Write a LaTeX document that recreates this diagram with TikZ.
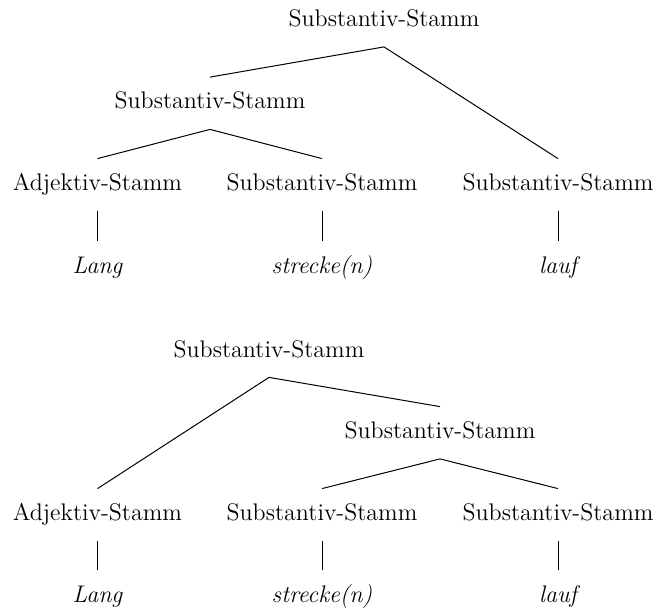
\documentclass[tikz,border=0pt]{standalone}
\begin{document}
\begin{tikzpicture}[x=0.5pt,y=-0.5pt,
  lab/.style={anchor=base,inner sep=0pt,text height=15.75pt,text depth=10pt,font=\fontsize{12}{14}\selectfont},
  word/.style={lab,font=\fontsize{12}{14}\selectfont\itshape},
  edge/.style={line width=0.5pt}]
\useasboundingbox (0,0) rectangle (658,609);
% top tree
\node[lab] (a0) at (384,26.5) {Substantiv-Stamm};
\node[lab] (a1) at (210,109) {Substantiv-Stamm};
\node[lab] (a2) at (97.5,190.5) {Adjektiv-Stamm};
\node[lab] (a3) at (322,190.5) {Substantiv-Stamm};
\node[lab] (a4) at (558,190.5) {Substantiv-Stamm};
\node[word] (w1) at (97.5,273) {Lang};
\node[word] (w2) at (322,273) {strecke(n)};
\node[word] (w3) at (558,273) {lauf};
\draw[edge] (a0.south) -- (a1.north);
\draw[edge] (a0.south) -- (a4.north);
\draw[edge] (a1.south) -- (a2.north);
\draw[edge] (a1.south) -- (a3.north);
\draw[edge] (a2.south) -- (w1.north);
\draw[edge] (a3.south) -- (w2.north);
\draw[edge] (a4.south) -- (w3.north);
% bottom tree
\node[lab] (b0) at (269,357) {Substantiv-Stamm};
\node[lab] (b1) at (440,438.5) {Substantiv-Stamm};
\node[lab] (b2) at (97.5,520.5) {Adjektiv-Stamm};
\node[lab] (b3) at (322,520.5) {Substantiv-Stamm};
\node[lab] (b4) at (558,520.5) {Substantiv-Stamm};
\node[word] (v1) at (97.5,602) {Lang};
\node[word] (v2) at (322,602) {strecke(n)};
\node[word] (v3) at (558,602) {lauf};
\draw[edge] (b0.south) -- (b2.north);
\draw[edge] (b0.south) -- (b1.north);
\draw[edge] (b1.south) -- (b3.north);
\draw[edge] (b1.south) -- (b4.north);
\draw[edge] (b2.south) -- (v1.north);
\draw[edge] (b3.south) -- (v2.north);
\draw[edge] (b4.south) -- (v3.north);
\end{tikzpicture}
\end{document}
